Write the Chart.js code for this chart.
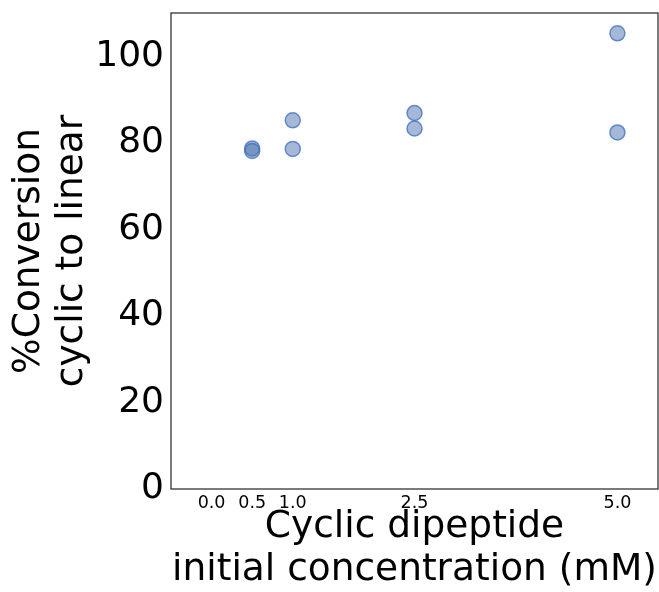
<!DOCTYPE html>
<html>
<head>
<meta charset="utf-8">
<script src="https://cdn.jsdelivr.net/npm/chart.js@4/dist/chart.umd.min.js"></script>
<style>
    html, body { margin: 0; padding: 0; background: #fff; }
    #wrap { width: 659px; height: 592px; }
</style>
</head>
<body>
<div id="wrap"><canvas id="chart" width="659" height="592"></canvas></div>
<script>
    // concentration (mM) and % conversion
    const concentrations = [0.5, 0.5, 1.0, 1.0, 2.5, 2.5, 5.0, 5.0];
    const conversions = [78.7, 78.1, 85.2, 78.6, 86.9, 83.3, 105.3, 82.4];
    const xTickValues = [0.0, 0.5, 1.0, 2.5, 5.0];
    const yTickValues = [0, 20, 40, 60, 80, 100];

    const points = concentrations.map((x, i) => ({ x: x, y: conversions[i] }));
    const fontFamily = '"DejaVu Sans", sans-serif';

    // matplotlib-style box around the plot area
    const frame = {
        id: 'frame',
        afterDraw(chart) {
            const a = chart.chartArea;
            const ctx = chart.ctx;
            ctx.save();
            ctx.strokeStyle = '#333';
            ctx.lineWidth = 1.3;
            ctx.strokeRect(a.left, a.top, a.right - a.left, a.bottom - a.top);
            ctx.restore();
        }
    };

    new Chart(document.getElementById('chart'), {
        type: 'scatter',
        data: {
            datasets: [{
                data: points,
                backgroundColor: 'rgba(76,114,176,0.5)',
                borderColor: 'rgba(60,110,190,0.75)',
                borderWidth: 1.5,
                pointRadius: 7.5,
                pointHoverRadius: 7.5
            }]
        },
        options: {
            responsive: false,
            animation: false,
            layout: { autoPadding: false, padding: { left: 0, top: 13, right: 1, bottom: 0 } },
            plugins: {
                legend: { display: false },
                tooltip: { enabled: false }
            },
            scales: {
                x: {
                    type: 'linear',
                    min: -0.5,
                    max: 5.5,
                    afterBuildTicks(scale) {
                        scale.ticks = xTickValues.map(v => ({ value: v }));
                    },
                    afterFit(scale) {
                        scale.height = 103;
                        scale.paddingLeft = 0;
                        scale.paddingRight = 0;
                    },
                    grid: { display: false, drawTicks: true, tickLength: 3 },
                    border: { display: false },
                    ticks: {
                        color: '#000',
                        padding: 1,
                        maxRotation: 0,
                        font: { family: fontFamily, size: 17.5 },
                        callback: v => Number(v).toFixed(1)
                    },
                    title: {
                        display: true,
                        text: ['Cyclic dipeptide', 'initial concentration (mM)'],
                        color: '#000',
                        font: { family: fontFamily, size: 37.5, lineHeight: 1.15 },
                        padding: { top: 8, bottom: 0 }
                    }
                },
                y: {
                    min: 0,
                    max: 110,
                    afterBuildTicks(scale) {
                        scale.ticks = yTickValues.map(v => ({ value: v }));
                    },
                    afterFit(scale) {
                        scale.width = 171;
                        scale.paddingTop = 0;
                        scale.paddingBottom = 0;
                    },
                    grid: { display: false, drawTicks: true, tickLength: 3 },
                    border: { display: false },
                    ticks: {
                        color: '#000',
                        padding: 4,
                        font: { family: fontFamily, size: 36 }
                    },
                    title: {
                        display: true,
                        text: ['%Conversion', 'cyclic to linear'],
                        color: '#000',
                        font: { family: fontFamily, size: 37.5, lineHeight: 1.15 },
                        padding: { top: 8, bottom: 0 }
                    }
                }
            }
        },
        plugins: [frame]
    });
</script>
</body>
</html>
